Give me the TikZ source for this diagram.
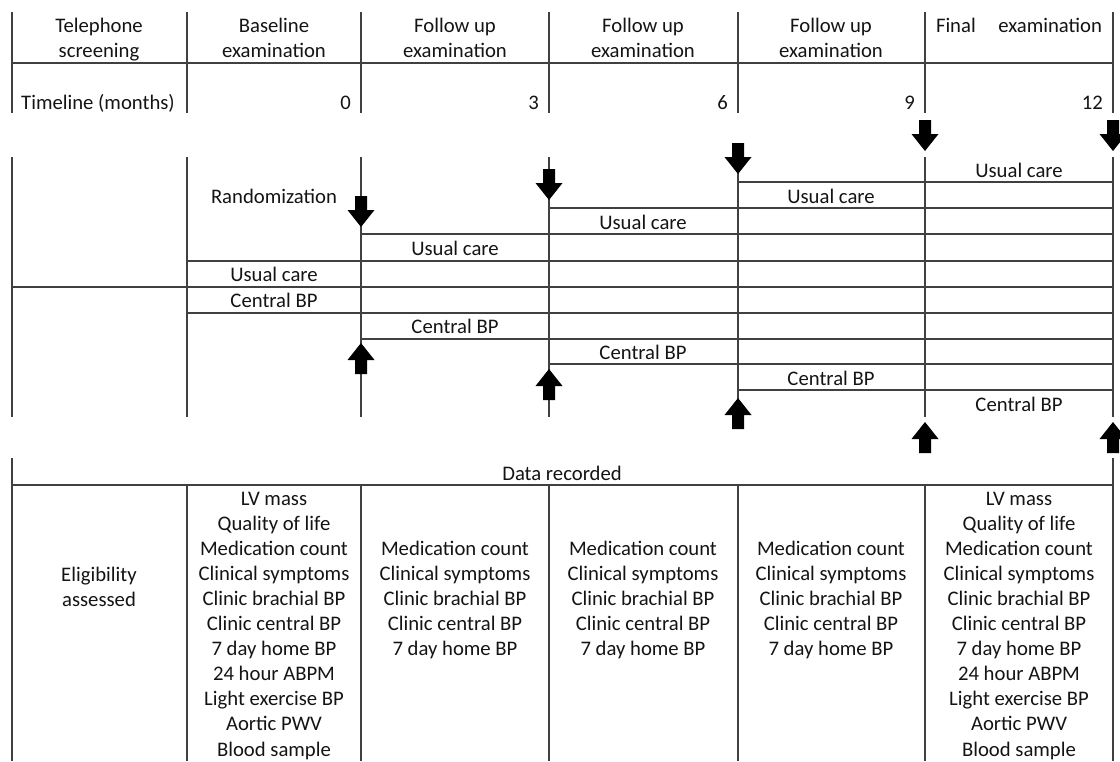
\documentclass[tikz,border=0pt]{standalone}
\usepackage{fontspec}
\setmainfont{Carlito}
\begin{document}
\begin{tikzpicture}[x=1pt,y=-1pt,
  rule/.style={draw=black!75,line width=1.4pt},
  lbl/.style={inner sep=0pt,text height=0.72em,text depth=0.22em,yshift=-4.5pt,font=\fontsize{20.7}{25}\selectfont,text=black!92},
  darrow/.pic={\fill[black] (-6,-31) -- (6,-31) -- (6,-17) -- (13.5,-17) -- (0,0) -- (-13.5,-17) -- (-6,-17) -- cycle;},
  uarrow/.pic={\fill[black] (-6,31) -- (6,31) -- (6,17) -- (13.5,17) -- (0,0) -- (-13.5,17) -- (-6,17) -- cycle;}
]
\useasboundingbox (0,0) rectangle (1120,761);

% ---------- header ----------
\foreach \x in {12,187,361,549,738,925,1113} \draw[rule] (\x,12) -- (\x,113);
\draw[rule] (12,63) -- (1113,63);

\node[lbl] (h0a) at (99,25) {Telephone};
\node[lbl] (h0b) at (99,50) {screening};
\node[lbl] (h1a) at (274,25) {Baseline};
\node[lbl] (h1b) at (274,50) {examination};
\node[lbl] (h2a) at (455,25) {Follow up};
\node[lbl] (h2b) at (455,50) {examination};
\node[lbl] (h3a) at (643,25) {Follow up};
\node[lbl] (h3b) at (643,50) {examination};
\node[lbl] (h4a) at (831,25) {Follow up};
\node[lbl] (h4b) at (831,50) {examination};
\node[lbl] (h5a) at (1019,25) {\makebox[166pt]{Final\hfill examination}};

\node[lbl] (tl) at (98,102) {Timeline (months)};
\node[lbl,anchor=east] (t0) at (351,102) {0};
\node[lbl,anchor=east] (t3) at (539,102) {3};
\node[lbl,anchor=east] (t6) at (728,102) {6};
\node[lbl,anchor=east] (t9) at (915,102) {9};
\node[lbl,anchor=east] (t12) at (1103,102) {12};

% ---------- middle ----------
\foreach \x in {12,187,361,549,738,925,1113} \draw[rule] (\x,157) -- (\x,417);
\draw[rule] (738,182) -- (1113,182);
\draw[rule] (549,208) -- (1113,208);
\draw[rule] (361,234) -- (1113,234);
\draw[rule] (187,261) -- (1113,261);
\draw[rule] (12,287) -- (1113,287);
\draw[rule] (187,313) -- (1113,313);
\draw[rule] (361,339) -- (1113,339);
\draw[rule] (549,364) -- (1113,364);
\draw[rule] (738,390) -- (1113,390);

\node[lbl] (rand) at (274,196) {Randomization};
\node[lbl] (uc5) at (1019,170) {Usual care};
\node[lbl] (uc4) at (831,196) {Usual care};
\node[lbl] (uc3) at (643,222) {Usual care};
\node[lbl] (uc2) at (455,248) {Usual care};
\node[lbl] (uc1) at (274,274) {Usual care};
\node[lbl] (cb1) at (274,300) {Central BP};
\node[lbl] (cb2) at (455,326) {Central BP};
\node[lbl] (cb3) at (643,352) {Central BP};
\node[lbl] (cb4) at (831,378) {Central BP};
\node[lbl] (cb5) at (1019,404) {Central BP};

\pic at (361,227) {darrow};
\pic at (549,200) {darrow};
\pic at (738,174) {darrow};
\pic at (925,151) {darrow};
\pic at (1113,151) {darrow};
\pic at (361,343) {uarrow};
\pic at (549,369) {uarrow};
\pic at (738,398) {uarrow};
\pic at (925,422) {uarrow};
\pic at (1113,422) {uarrow};

% ---------- data recorded ----------
\draw[rule] (12,458) -- (12,761);
\draw[rule] (1113,458) -- (1113,761);
\draw[rule] (12,485) -- (1113,485);
\foreach \x in {187,361,549,738,925} \draw[rule] (\x,485) -- (\x,761);

\node[lbl] (dr) at (562,473) {Data recorded};
\node[lbl] (el1) at (99,574) {Eligibility};
\node[lbl] (el2) at (99,599) {assessed};

\foreach \t [count=\i from 0] in {LV mass,Quality of life,Medication count,Clinical symptoms,Clinic brachial BP,Clinic central BP,7 day home BP,24 hour ABPM,Light exercise BP,Aortic PWV,Blood sample}{
  \node[lbl] (ba-\i) at (274,{498+25.1*\i}) {\t};
  \node[lbl] (bf-\i) at (1019,{498+25.1*\i}) {\t};
}
\foreach \cx/\nm in {455/c2,643/c3,831/c4}{
  \foreach \t [count=\i from 2] in {Medication count,Clinical symptoms,Clinic brachial BP,Clinic central BP,7 day home BP}{
    \node[lbl] (\nm-\i) at (\cx,{498+25.1*\i}) {\t};
  }
}
\end{tikzpicture}
\end{document}
